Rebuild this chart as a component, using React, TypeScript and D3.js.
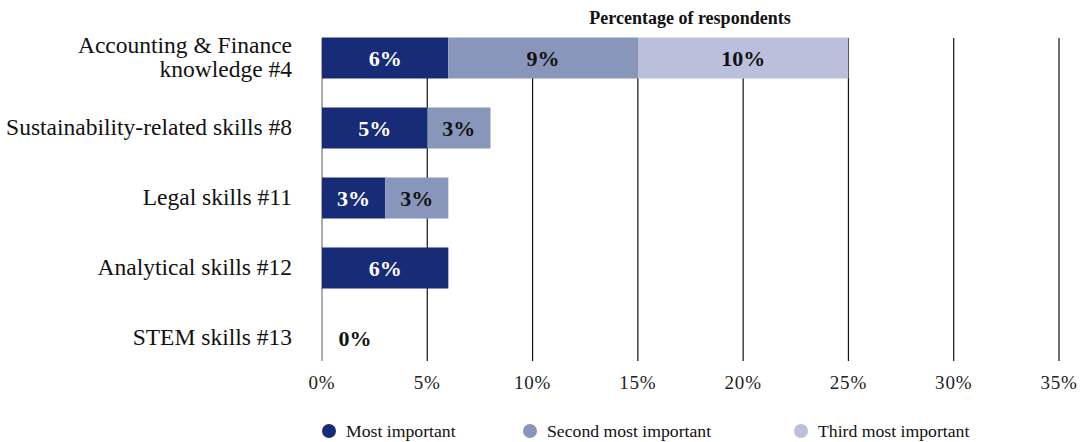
import React from "react";
import * as d3 from "d3";

const categories = [
  ["Accounting & Finance", "knowledge #4"],
  ["Sustainability-related skills #8"],
  ["Legal skills #11"],
  ["Analytical skills #12"],
  ["STEM skills #13"],
];
const mostImportant = [6, 5, 3, 6, 0];
const secondMost = [9, 3, 3, 0, 0];
const thirdMost = [10, 0, 0, 0, 0];
const seriesNames = ["Most important", "Second most important", "Third most important"];
const seriesColors = ["#172b77", "#8996bc", "#bac0db"];
const labelColors = ["#ffffff", "#111111", "#111111"];
const xTicks = [0, 5, 10, 15, 20, 25, 30, 35];

const W = 1088;
const H = 442;
const FONT = "'Liberation Serif', 'DejaVu Serif', serif";

export default function App() {
  const x = d3.scaleLinear().domain([0, 35]).range([322, 1059]);
  const y = d3
    .scaleBand<number>()
    .domain(d3.range(categories.length))
    .range([23, 373])
    .paddingInner(0.414)
    .paddingOuter(0.207);
  const series = [mostImportant, secondMost, thirdMost];
  const data = categories.map((_, i) => ({
    i,
    v0: mostImportant[i],
    v1: secondMost[i],
    v2: thirdMost[i],
  }));
  const stack = d3.stack<any>().keys(["v0", "v1", "v2"])(data);
  const gridTop = 38;
  const gridBottom = 361;
  const legendX = [329, 530, 801];

  return (
    <svg width={W} height={H} style={{ position: "absolute", left: 0, top: 0 }}>
      <rect width={W} height={H} fill="#ffffff" />
      <text x={690} y={24} textAnchor="middle" fontFamily={FONT} fontWeight="bold" fontSize={18} fill="#111">
        Percentage of respondents
      </text>
      {xTicks.map((t) => (
        <line
          key={t}
          x1={x(t)}
          x2={x(t)}
          y1={gridTop}
          y2={gridBottom}
          stroke={t === 0 ? "#777" : "#111"}
          strokeWidth={1.2}
        />
      ))}
      {stack.map((layer, si) =>
        layer.map((d, i) => {
          const w = x(d[1]) - x(d[0]);
          if (w <= 0) return null;
          return (
            <rect
              key={`${si}-${i}`}
              x={x(d[0])}
              y={y(i)}
              width={w}
              height={y.bandwidth()}
              fill={seriesColors[si]}
            />
          );
        })
      )}
      {stack.map((layer, si) =>
        layer.map((d, i) => {
          const v = series[si][i];
          if (v <= 0) return null;
          return (
            <text
              key={`l${si}-${i}`}
              x={(x(d[0]) + x(d[1])) / 2}
              y={y(i)! + y.bandwidth() / 2}
              dy="0.35em"
              textAnchor="middle"
              fontFamily={FONT}
              fontWeight="bold"
              fontSize={22}
              fill={labelColors[si]}
            >
              {v}%
            </text>
          );
        })
      )}
      {data.map((d) =>
        d.v0 + d.v1 + d.v2 === 0 ? (
          <text
            key={`z${d.i}`}
            x={x(0) + 33}
            y={y(d.i)! + y.bandwidth() / 2}
            dy="0.35em"
            textAnchor="middle"
            fontFamily={FONT}
            fontWeight="bold"
            fontSize={22}
            fill="#111"
          >
            0%
          </text>
        ) : null
      )}
      {categories.map((lines, i) => {
        const cy = y(i)! + y.bandwidth() / 2;
        const lh = 24;
        return (
          <text
            key={`c${i}`}
            x={292}
            textAnchor="end"
            fontFamily={FONT}
            fontSize={23.5}
            fill="#111"
          >
            {lines.map((ln, k) => (
              <tspan key={k} x={292} y={cy - 1.5 + (k - (lines.length - 1) / 2) * lh} dy="0.35em">
                {ln}
              </tspan>
            ))}
          </text>
        );
      })}
      {xTicks.map((t) => (
        <text
          key={`t${t}`}
          x={x(t)}
          y={382}
          dy="0.35em"
          textAnchor="middle"
          fontFamily={FONT}
          fontSize={19}
          letterSpacing={0.8}
          fill="#222"
        >
          {t}%
        </text>
      ))}
      {seriesNames.map((n, i) => (
        <g key={n}>
          <circle cx={legendX[i]} cy={431} r={7} fill={seriesColors[i]} />
          <text x={legendX[i] + 17} y={431} dy="0.35em" fontFamily={FONT} fontSize={17.7} fill="#111">
            {n}
          </text>
        </g>
      ))}
    </svg>
  );
}
